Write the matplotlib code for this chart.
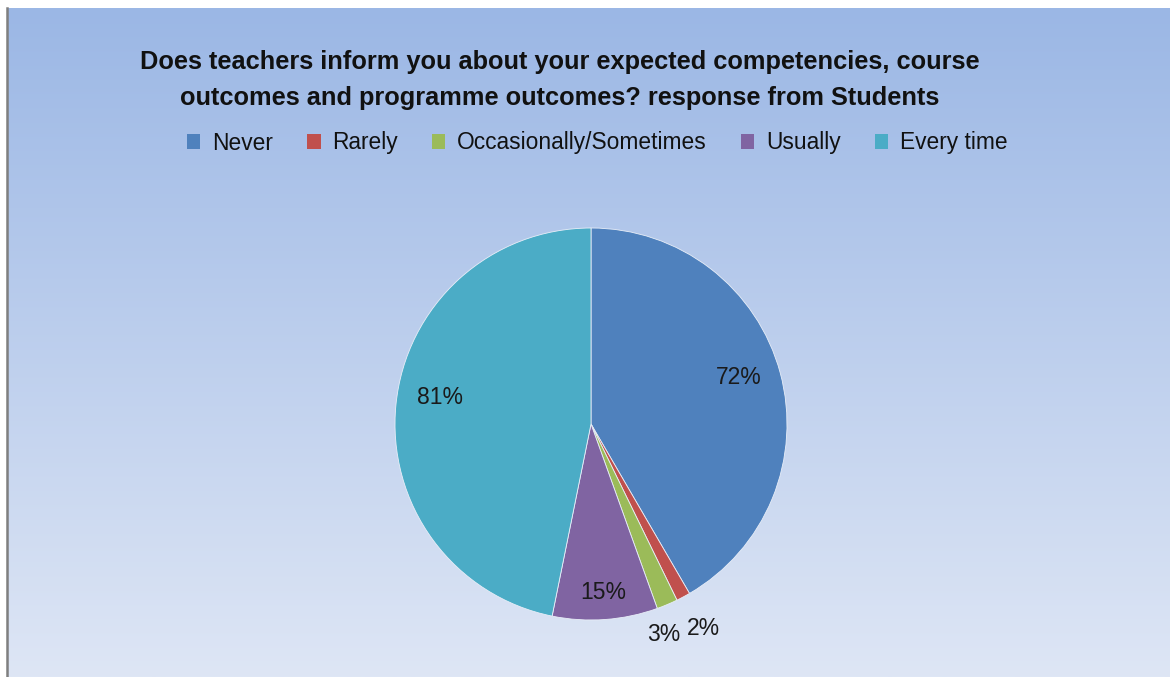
import numpy as np
import matplotlib.pyplot as plt
from matplotlib.patches import Patch

categories = ["Never", "Rarely", "Occasionally/Sometimes", "Usually", "Every time"]
values = [72, 2, 3, 15, 81]
colors = ["#4F81BD", "#C0504D", "#9BBB59", "#8064A2", "#4BACC6"]
# label placement: distance from centre (radius units) and angular nudge (deg)
label_dist = [0.79, 1.19, 1.135, 0.86, 0.78]
label_nudge = [2.3, 0.7, -3.7, 0.0, -4.4]

title = ("Does teachers inform you about your expected competencies, course\n"
         "outcomes and programme outcomes? response from Students")

plt.rcParams['font.family'] = ['Liberation Sans', 'DejaVu Sans']

W, H = 1170, 677
fig = plt.figure(figsize=(W / 100, H / 100), dpi=100)
fig.patch.set_facecolor("white")

# gradient backdrop of the chart area
bg = fig.add_axes([7 / W, 0, (W - 7) / W, (H - 8) / H])
top = np.array([155, 183, 229]) / 255
bot = np.array([222, 230, 245]) / 255
t = np.linspace(0, 1, 256)[:, None]
grad = top * (1 - t) + bot * t
bg.imshow(grad[:, None, :], aspect="auto", extent=[0, 1, 0, 1])
bg.set_xlim(0, 1)
bg.set_ylim(0, 1)
bg.set_xticks([])
bg.set_yticks([])
for name, s in bg.spines.items():
    if name == "left":
        s.set_color("#7f7f7f")
        s.set_linewidth(1.8)
    else:
        s.set_visible(False)

# pie centred at (591, 424) px with radius 196 px
cx, cy, r = 591, 424, 196
half = 250
ax = fig.add_axes([(cx - half) / W, (H - cy - half) / H, 2 * half / W, 2 * half / H])
wedges, _ = ax.pie(values, colors=colors, startangle=90, counterclock=False,
                   wedgeprops=dict(edgecolor="#e8eef8", linewidth=0.6))
lim = half / r
ax.set_xlim(-lim, lim)
ax.set_ylim(-lim, lim)
ax.axis("off")

for w, v, d, n in zip(wedges, values, label_dist, label_nudge):
    ang = np.deg2rad((w.theta1 + w.theta2) / 2 + n)
    ax.text(d * np.cos(ang), d * np.sin(ang), f"{v}%", ha="center", va="center",
            fontsize=16.5, color="#1a1a1a")

fig.text(560 / W, 1 - 80 / H, title, ha="center", va="center", fontsize=18.3,
         fontweight="bold", linespacing=1.62, color="#111111")

handles = [Patch(facecolor=c, edgecolor="none") for c in colors]
fig.legend(handles, categories, loc="center", bbox_to_anchor=(597 / W, 1 - 143 / H),
           ncol=5, frameon=False, fontsize=16.4, handlelength=0.6, handleheight=0.6,
           handletextpad=0.5, columnspacing=1.5, labelcolor="#111111")

fig.savefig("out.png", dpi=100)
